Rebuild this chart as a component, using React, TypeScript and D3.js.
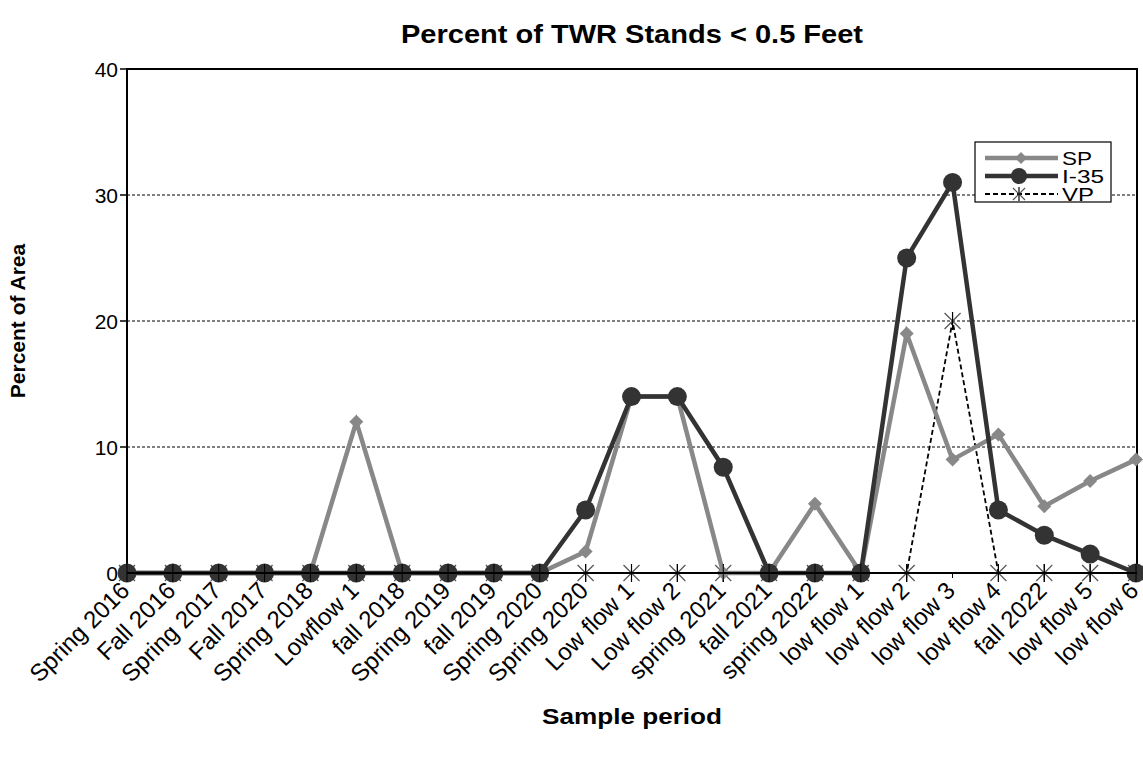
import React from "react";
import * as d3 from "d3";

const categories = [
  "Spring 2016", "Fall 2016", "Spring 2017", "Fall 2017", "Spring 2018", "Lowflow 1",
  "fall 2018", "Spring 2019", "fall 2019", "Spring 2020", "Spring 2020", "Low flow 1",
  "Low flow 2", "spring 2021", "fall 2021", "spring 2022", "low flow 1", "low flow 2",
  "low flow 3", "low flow 4", "fall 2022", "low flow 5", "low flow 6",
];
const spValues = [0, 0, 0, 0, 0, 12, 0, 0, 0, 0, 1.7, 14, 14, 0, 0, 5.5, 0, 19, 9, 11, 5.3, 7.3, 9];
const i35Values = [0, 0, 0, 0, 0, 0, 0, 0, 0, 0, 5, 14, 14, 8.4, 0, 0, 0, 25, 31, 5, 3, 1.5, 0];
const vpValues = [0, 0, 0, 0, 0, 0, 0, 0, 0, 0, 0, 0, 0, 0, 0, 0, 0, 0, 20, 0, 0, 0, 0];
const yTicks = [0, 10, 20, 30, 40];

const W = 1143, H = 761;
const L = 127, R = 1137, T = 69, B = 573;
const FONT = "Liberation Sans, Arial, sans-serif";

function Asterisk({ x, y, s = 8, color = "#555" }: { x: number; y: number; s?: number; color?: string }) {
  return (
    <g stroke={color} strokeWidth={1.2}>
      <line x1={x - s} y1={y - s} x2={x + s} y2={y + s} />
      <line x1={x - s} y1={y + s} x2={x + s} y2={y - s} />
      <line x1={x} y1={y - s - 1} x2={x} y2={y + s + 1} stroke="#000" />
    </g>
  );
}

function Diamond({ x, y, s = 7, color = "#888" }: { x: number; y: number; s?: number; color?: string }) {
  return <path d={`M${x},${y - s}L${x + s},${y}L${x},${y + s}L${x - s},${y}Z`} fill={color} />;
}

export default function App() {
  const idx = categories.map((_, i) => i);
  const x = d3.scalePoint<number>().domain(idx).range([L, R - 1]).padding(0);
  const y = d3.scaleLinear().domain([0, 40]).range([B, T]);
  const line = d3.line<number>().x((_, i) => x(i) as number).y((d) => y(d));

  return (
    <svg width={W} height={H} style={{ position: "absolute", left: 0, top: 0 }} fontFamily={FONT}>
      <rect width={W} height={H} fill="#fff" />
      <text x={632} y={43} textAnchor="middle" fontSize={25} fontWeight="bold" textLength={462} lengthAdjust="spacingAndGlyphs">
        Percent of TWR Stands &lt; 0.5 Feet
      </text>
      {/* gridlines */}
      {yTicks.filter((t) => t > 0 && t < 40).map((t) => (
        <line key={t} x1={L} x2={R} y1={y(t)} y2={y(t)} stroke="#000" strokeWidth={1} strokeDasharray="3,2" />
      ))}
      {/* plot border */}
      <rect x={L} y={T} width={R - L} height={B - T} fill="none" stroke="#000" strokeWidth={2} />
      {/* y ticks */}
      {yTicks.map((t) => (
        <g key={t}>
          <line x1={L - 7} x2={L} y1={y(t)} y2={y(t)} stroke="#000" strokeWidth={1.5} />
          <text x={L - 9} y={y(t) + 7.5} textAnchor="end" fontSize={21}>{t}</text>
        </g>
      ))}
      {/* x ticks & labels */}
      {categories.map((c, i) => (
        <g key={i}>
          <line x1={x(i)} x2={x(i)} y1={B} y2={B + 5} stroke="#000" strokeWidth={1} />
          <text
            transform={`translate(${(x(i) as number) + 4},${B + 19}) rotate(-45)`}
            textAnchor="end"
            fontSize={24}
          >
            {c}
          </text>
        </g>
      ))}
      <text x={632} y={724} textAnchor="middle" fontSize={22} fontWeight="bold" textLength={180} lengthAdjust="spacingAndGlyphs">Sample period</text>
      <text transform={`translate(25,321) rotate(-90)`} textAnchor="middle" fontSize={21} fontWeight="bold">
        Percent of Area
      </text>

      {/* VP */}
      <path d={line(vpValues) || ""} fill="none" stroke="#000" strokeWidth={1.8} strokeDasharray="5,3" />
      {vpValues.map((v, i) => <Asterisk key={i} x={x(i) as number} y={y(v)} />)}
      {/* SP */}
      <path d={line(spValues) || ""} fill="none" stroke="#888" strokeWidth={4.5} />
      {spValues.map((v, i) => <Diamond key={i} x={x(i) as number} y={y(v)} />)}
      {/* I-35 */}
      <path d={line(i35Values) || ""} fill="none" stroke="#333" strokeWidth={4.5} />
      {i35Values.map((v, i) => <circle key={i} cx={x(i) as number} cy={y(v)} r={9.5} fill="#333" />)}
      {/* zero-line over markers */}
      <line x1={L} x2={R} y1={B} y2={B} stroke="#000" strokeWidth={2} />
      {vpValues.map((v, i) => (
        <line key={i} x1={x(i) as number} x2={x(i) as number} y1={y(v) - 9} y2={y(v) + 9} stroke="#000" strokeWidth={1} />
      ))}

      {/* legend */}
      <rect x={975} y={142} width={136} height={60} fill="#fff" stroke="#000" strokeWidth={1.2} />
      <line x1={985} x2={1058} y1={158} y2={158} stroke="#888" strokeWidth={4.5} />
      <Diamond x={1021} y={158} s={6} />
      <text x={1062} y={164.5} fontSize={18} textLength={30} lengthAdjust="spacingAndGlyphs">SP</text>
      <line x1={985} x2={1058} y1={176} y2={176} stroke="#333" strokeWidth={4.5} />
      <circle cx={1019} cy={176} r={8} fill="#333" />
      <text x={1062} y={182.5} fontSize={18} textLength={42} lengthAdjust="spacingAndGlyphs">I-35</text>
      <line x1={985} x2={1058} y1={194} y2={194} stroke="#000" strokeWidth={1.8} strokeDasharray="5,3" />
      <Asterisk x={1019} y={194} s={6} />
      <text x={1062} y={200.5} fontSize={18} textLength={32} lengthAdjust="spacingAndGlyphs">VP</text>
    </svg>
  );
}
